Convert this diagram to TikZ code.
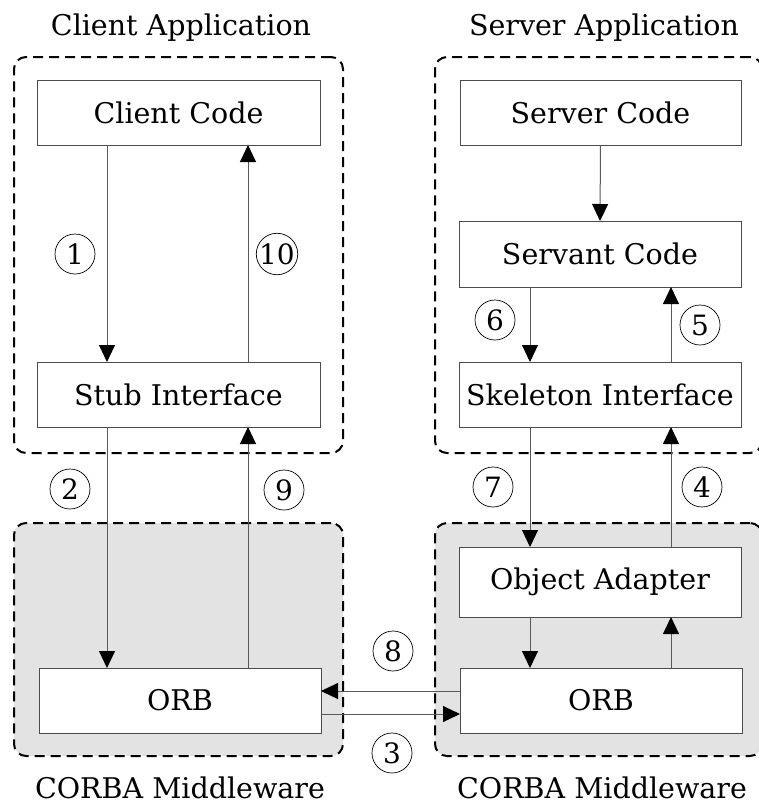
\documentclass[tikz,border=0pt]{standalone}
\usepackage{fontspec}
\setmainfont{DejaVu Serif}
\usetikzlibrary{arrows.meta}

\begin{document}
\begin{tikzpicture}[x=1pt,y=-1pt,
  lbl/.style={font=\fontsize{28.5}{32}\selectfont, inner sep=0pt, anchor=base},
  block/.style={draw=black!70, line width=1pt, fill=white, inner sep=0pt, outer sep=0pt,
    font=\fontsize{28.5}{32}\selectfont},
  group/.style={draw=black, line width=2pt, dash pattern=on 10pt off 6pt,
    rounded corners=12pt, inner sep=0pt, outer sep=0pt},
  mw/.style={group, fill=black!11},
  conn/.style={draw=black!65, line width=1pt, -{Triangle[length=17pt,width=16pt,fill=black,color=black]}},
  num/.style={draw=black, line width=0.7pt, circle, minimum size=40pt, inner sep=0pt,
    font=\fontsize{28}{32}\selectfont}
]
\useasboundingbox (0,0) rectangle (758,803);

% enclosing groups
\node[group, minimum width=329pt, minimum height=396pt] (capp) at (178.5,255) {};
\node[group, minimum width=327pt, minimum height=396pt] (sapp) at (598.5,255) {};
\node[mw, minimum width=329pt, minimum height=233pt] (cmw) at (178.5,639.5) {};
\node[mw, minimum width=327pt, minimum height=233pt] (smw) at (598.5,639.5) {};

% group titles
\node[lbl] (tca) at (181,35) {Client Application};
\node[lbl] (tsa) at (604,35) {Server Application};
\node[lbl] (tcm) at (180,798) {CORBA Middleware};
\node[lbl] (tsm) at (602,798) {CORBA Middleware};

% client side
\node[block, minimum width=283pt, minimum height=65pt] (cc) at (178.5,112.5) {Client Code};
\node[block, minimum width=283pt, minimum height=65pt] (stub) at (178.5,394.5) {Stub Interface};
\node[block, minimum width=282pt, minimum height=65pt] (orbl) at (180,700.5) {ORB};

% server side
\node[block, minimum width=281pt, minimum height=65pt] (sc) at (600.5,112.5) {Server Code};
\node[block, minimum width=282pt, minimum height=66pt] (svc) at (600,254) {Servant Code};
\node[block, minimum width=282pt, minimum height=65pt] (skel) at (600,394.5) {Skeleton Interface};
\node[block, minimum width=282pt, minimum height=70pt] (oa) at (600,582) {Object Adapter};
\node[block, minimum width=282pt, minimum height=65pt] (orbr) at (601,700.5) {ORB};

% invocation path
\draw[conn] ([xshift=-71.5pt]cc.south) -- ([xshift=-71.5pt]stub.north);
\draw[conn] ([xshift=-71.5pt]stub.south) -- ([xshift=-73pt]orbl.north);
\draw[conn] ([yshift=-13.5pt]orbl.east) -- ([yshift=-13.5pt]orbr.west);
\draw[conn] ([xshift=70pt]orbr.north) -- ([xshift=71pt]oa.south);
\draw[conn] ([xshift=71pt]oa.north) -- ([xshift=71pt]skel.south);
\draw[conn] ([xshift=71pt]skel.north) -- ([xshift=71pt]svc.south);
\draw[conn] (sc.south) -- (svc.north);
% reply path
\draw[conn] ([xshift=-70pt]svc.south) -- ([xshift=-70pt]skel.north);
\draw[conn] ([xshift=-70pt]skel.south) -- ([xshift=-70pt]oa.north);
\draw[conn] ([xshift=-70pt]oa.south) -- ([xshift=-71pt]orbr.north);
\draw[conn] ([yshift=9.5pt]orbr.west) -- ([yshift=9.5pt]orbl.east);
\draw[conn] ([xshift=68pt]orbl.north) -- ([xshift=69.5pt]stub.south);
\draw[conn] ([xshift=69.5pt]stub.north) -- ([xshift=69.5pt]cc.south);

% step numbers
\node[num] (n1) at (75,254) {1};
\node[num] (n2) at (70,489) {2};
\node[num] (n3) at (392,753) {3};
\node[num] (n4) at (702,487) {4};
\node[num] (n5) at (700,325) {5};
\node[num] (n6) at (495,320) {6};
\node[num] (n7) at (493,487) {7};
\node[num] (n8) at (393,651) {8};
\node[num] (n9) at (284,490) {9};
\node[num] (n10) at (277,254) {10};
\end{tikzpicture}
\end{document}
